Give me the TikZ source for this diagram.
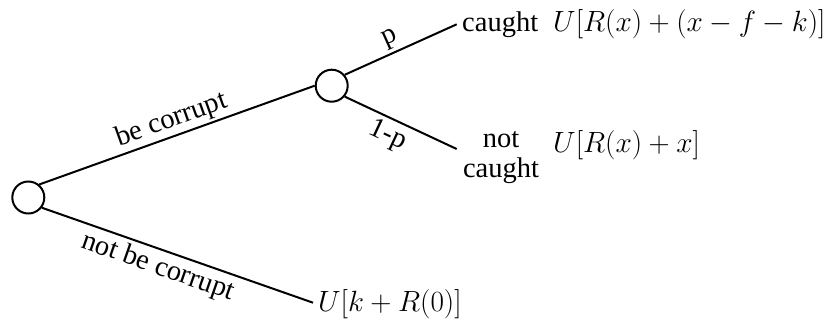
\RequirePackage{fix-cm}
\documentclass[tikz,border=0pt]{standalone}
\usepackage{fontspec}
\setmainfont{Liberation Serif}
\begin{document}
\begin{tikzpicture}[x=1pt,y=-1pt,
  every node/.style={font=\fontsize{28.5}{30}\selectfont, inner sep=0pt},
  chance/.style={circle, draw, line width=2pt, minimum size=32pt, inner sep=0pt},
  branch/.style={line width=2pt},
  lab/.style={sloped, inner sep=2.5pt},
  mathlab/.style={anchor=base west, font=\fontsize{29.3}{31}\selectfont}]
\useasboundingbox (0,0) rectangle (833,322);
\node[chance] (r) at (28.3,197.5) {};
\node[chance] (c) at (331.7,85.7) {};
\coordinate (ec) at (456.7,24.3);
\coordinate (en) at (456.7,149);
\coordinate (eb) at (313,302.7);
\draw[branch] (r.50) -- node[lab, above, pos=0.5, inner sep=2pt] (lbc) {be corrupt} (c.west);
\draw[branch] (c.40) -- node[lab, above, pos=0.46, inner sep=3pt] (lp) {p} (ec);
\draw[branch] (c.-40) -- node[lab, below, pos=0.45, inner sep=4pt] (lq) {1-p} (en);
\draw[branch] (r.-37) -- node[lab, below, pos=0.45, inner sep=4pt] (lnbc) {not be corrupt} (eb);
\node[anchor=base west] (tc) at (462,31) {caught};
\node[mathlab] (uc) at (553,31) {$U[R(x)+(x-f-k)]$};
\node[anchor=base] (tn1) at (501,147) {not};
\node[anchor=base] (tn2) at (501,177) {caught};
\node[mathlab] (un) at (553,152) {$U[R(x)+x]$};
\node[mathlab] (ub) at (318,311) {$U[k+R(0)]$};
\end{tikzpicture}
\end{document}
